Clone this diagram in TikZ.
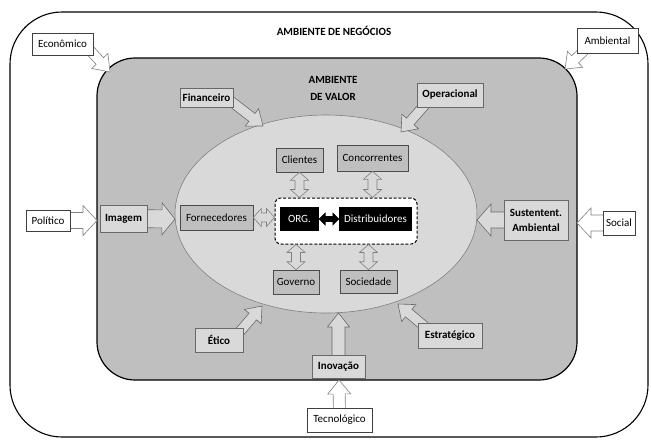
\documentclass[tikz,border=0pt]{standalone}
\usepackage{fontspec}
\setmainfont{Carlito}
\usetikzlibrary{calc}
\definecolor{gA}{RGB}{191,191,191}
\definecolor{gB}{RGB}{217,217,217}
\definecolor{edgec}{RGB}{105,105,105}
\pgfdeclarelayer{back}
\pgfdeclarelayer{mid}
\pgfsetlayers{back,mid,main}
% single block arrow: [style]{from}{to}{shaft half width}{head half width}{head length}
\newcommand\blockarrow[6][]{%
  \coordinate (baA) at (#2);
  \coordinate (baB) at (#3);
  \coordinate (baQ) at ($(baB)!#6!(baA)$);
  \draw[#1] ($(baA)!#4!90:(baB)$) -- ($(baQ)!#4!-90:(baA)$) -- ($(baQ)!#5!-90:(baA)$)
    -- (baB) -- ($(baQ)!#5!90:(baA)$) -- ($(baQ)!#4!90:(baA)$) -- ($(baA)!#4!-90:(baB)$) -- cycle;
}
% double block arrow
\newcommand\dblarrow[6][]{%
  \coordinate (baA) at (#2);
  \coordinate (baB) at (#3);
  \coordinate (baQ) at ($(baB)!#6!(baA)$);
  \coordinate (baR) at ($(baA)!#6!(baB)$);
  \draw[#1] (baA) -- ($(baR)!#5!90:(baB)$) -- ($(baR)!#4!90:(baB)$) -- ($(baQ)!#4!-90:(baA)$)
    -- ($(baQ)!#5!-90:(baA)$) -- (baB) -- ($(baQ)!#5!90:(baA)$) -- ($(baQ)!#4!90:(baA)$)
    -- ($(baR)!#4!-90:(baB)$) -- ($(baR)!#5!-90:(baB)$) -- cycle;
}
\tikzset{
  lbl/.style={inner sep=0pt, align=center},
  outbox/.style={lbl, draw=black!75, fill=white, line width=0.6pt},
  inbox/.style={lbl, draw=edgec, fill=gB, line width=0.6pt, font=\fontsize{11}{15}\selectfont\bfseries},
  ellbox/.style={lbl, draw=black!70, fill=gA, line width=0.6pt},
  blkbox/.style={lbl, fill=black, text=white},
  outarrow/.style={draw=gray, fill=white, line width=0.6pt, line join=miter},
  inarrow/.style={draw=edgec, fill=gB, line width=0.6pt, line join=miter},
  smallarrow/.style={draw=gray, fill=gB, line width=0.6pt, line join=miter},
  blkarrow/.style={draw=black, fill=black, line width=0.6pt, line join=miter}
}
\begin{document}
\begin{tikzpicture}[x=1pt, y=-1pt, font=\fontsize{11}{13}\selectfont]
\useasboundingbox (0,0) rectangle (651,440);

\begin{pgfonlayer}{back}
  \draw[line width=1.1pt, rounded corners=52pt] (10,12) rectangle (648,437);
  \draw[fill=gA, line width=1.2pt, rounded corners=38pt] (97,58) rectangle (577,380);
  \draw[draw=gray, fill=gB, line width=0.6pt] (326,214) ellipse [x radius=151pt, y radius=99pt];
\end{pgfonlayer}

% titles
\node[lbl, font=\fontsize{11}{13}\selectfont\bfseries] (title) at (334,31) {AMBIENTE DE NEGÓCIOS};
\node[lbl, font=\fontsize{11}{17}\selectfont\bfseries] (vtitle) at (333,88) {AMBIENTE\\DE VALOR};

% outer factors
\node[outbox, minimum width=61pt, minimum height=22pt] (eco) at (62.5,44) {Econômico};
\node[outbox, minimum width=61pt, minimum height=25pt] (amb) at (607.5,40.5) {Ambiental};
\node[outbox, minimum width=44pt, minimum height=21pt] (pol) at (48,220.5) {Político};
\node[outbox, minimum width=32pt, minimum height=24pt] (soc) at (619,223) {Social};
\node[outbox, minimum width=65pt, minimum height=24pt] (tec) at (339.5,420) {Tecnológico};

% value factors
\node[inbox, minimum width=53pt, minimum height=19pt] (fin) at (206.5,97.5) {Financeiro};
\node[inbox, minimum width=66pt, minimum height=24pt] (ope) at (450,95) {Operacional};
\node[inbox, minimum width=47pt, minimum height=27pt] (ima) at (123.5,218.5) {Imagem};
\node[inbox, minimum width=64pt, minimum height=40pt] (sus) at (536,220) {Sustentent.\\Ambiental};
\node[inbox, minimum width=48pt, minimum height=24pt] (eti) at (219,340) {Ético};
\node[inbox, minimum width=64pt, minimum height=25pt] (est) at (450,335.5) {Estratégico};
\node[inbox, minimum width=53pt, minimum height=23pt] (ino) at (338.5,366.5) {Inovação};

% stakeholders
\node[ellbox, minimum width=47pt, minimum height=24pt] (cli) at (299.5,160) {Clientes};
\node[ellbox, minimum width=71pt, minimum height=26pt] (con) at (372.5,158) {Concorrentes};
\node[ellbox, minimum width=73pt, minimum height=25pt] (for) at (216.5,217.5) {Fornecedores};
\node[ellbox, minimum width=46pt, minimum height=24pt] (gov) at (296,282) {Governo};
\node[ellbox, minimum width=57pt, minimum height=23pt] (soci) at (368.5,281.5) {Sociedade};

% core
\node[draw=black, dash pattern=on 3pt off 1.8pt, line width=1pt, fill=white, rounded corners=6pt,
      minimum width=142pt, minimum height=46pt, inner sep=0pt] (core) at (346,221) {};
\node[blkbox, minimum width=39pt, minimum height=24pt] (org) at (299.5,219) {ORG.};
\node[blkbox, minimum width=73pt, minimum height=24pt] (dis) at (375.5,219) {Distribuidores};

% tips
\coordinate (ecoT) at (110,72);
\coordinate (ambT) at (565,69);
\coordinate (polT) at (97,220.5);
\coordinate (socT) at (577,223);
\coordinate (tecT) at (339,380);
\coordinate (finT) at (263,126);
\coordinate (opeT) at (401,132);
\coordinate (imaT) at (175,219);
\coordinate (susT) at (477,220);
\coordinate (etiT) at (262,306);
\coordinate (estT) at (398,304);
\coordinate (inoT) at (338.5,313);

\begin{pgfonlayer}{mid}
  \blockarrow[outarrow]{$(eco.south east)+(-7,-9)$}{ecoT}{5pt}{11pt}{15pt}
  \blockarrow[outarrow]{$(amb.south west)+(15,-10)$}{ambT}{5pt}{11pt}{14pt}
  \blockarrow[outarrow]{pol.center}{polT}{8pt}{15pt}{14pt}
  \blockarrow[outarrow]{soc.center}{socT}{8pt}{15pt}{14pt}
  \blockarrow[outarrow]{tec.center}{tecT}{6pt}{11.5pt}{14pt}
  \blockarrow[inarrow]{$(fin.south east)+(-6,-9)$}{finT}{5pt}{11pt}{14pt}
  \blockarrow[inarrow]{$(ope.south west)+(13,-8)$}{opeT}{5pt}{11pt}{14pt}
  \blockarrow[inarrow]{ima.center}{imaT}{9pt}{16pt}{13pt}
  \blockarrow[inarrow]{sus.center}{susT}{8pt}{16pt}{14pt}
  \blockarrow[inarrow]{$(eti.north east)+(-7,8)$}{etiT}{5pt}{11pt}{14pt}
  \blockarrow[inarrow]{$(est.north west)+(12,8)$}{estT}{5pt}{11pt}{14pt}
  \blockarrow[inarrow]{ino.center}{inoT}{6.5pt}{11pt}{14pt}
\end{pgfonlayer}

% double arrows between stakeholders and core
\dblarrow[smallarrow]{cli.south}{cli.south |- core.north}{4.5pt}{9pt}{8pt}
\dblarrow[smallarrow]{con.south}{con.south |- core.north}{4.5pt}{9pt}{8pt}
\dblarrow[smallarrow]{gov.north}{gov.north |- core.south}{4.5pt}{9pt}{8pt}
\dblarrow[smallarrow]{soci.north}{soci.north |- core.south}{4.5pt}{9pt}{8pt}
\dblarrow[smallarrow]{for.east}{for.east -| core.west}{4.5pt}{9pt}{8pt}
\dblarrow[blkarrow]{org.east}{dis.west}{2.5pt}{6pt}{6pt}
\end{tikzpicture}
\end{document}
